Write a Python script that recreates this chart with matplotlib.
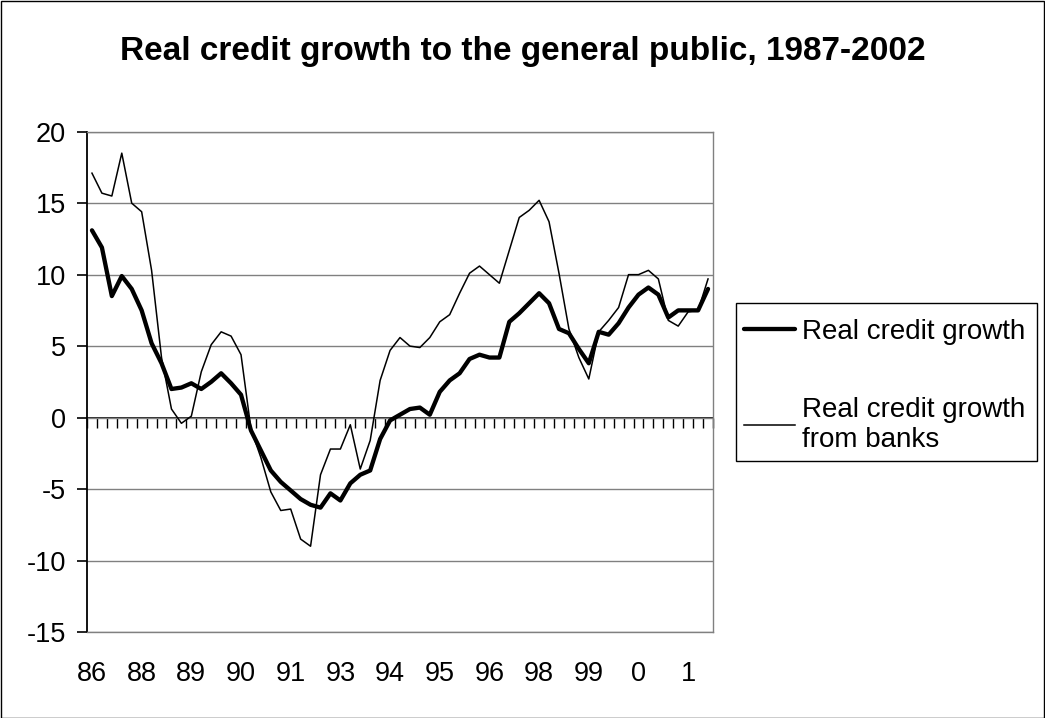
import numpy as np
import matplotlib
matplotlib.use("Agg")
import matplotlib.pyplot as plt
from matplotlib.patches import Rectangle

plt.rcParams['font.family'] = ['Liberation Sans', 'DejaVu Sans']
plt.rcParams['axes.unicode_minus'] = False

# Quarterly observations, 1986Q4 - 2002Q2 (annual % change, real terms)
credit_growth = [
    13.1, 11.9, 8.5, 9.9, 9.0, 7.5, 5.2, 3.8, 2.0, 2.1,
    2.4, 2.0, 2.5, 3.1, 2.4, 1.6, -0.9, -2.3, -3.7, -4.5,
    -5.1, -5.7, -6.1, -6.3, -5.3, -5.8, -4.6, -4.0, -3.7, -1.5,
    -0.2, 0.2, 0.6, 0.7, 0.2, 1.8, 2.6, 3.1, 4.1, 4.4,
    4.2, 4.2, 6.7, 7.3, 8.0, 8.7, 8.0, 6.2, 5.9, 4.8,
    3.8, 6.0, 5.8, 6.6, 7.7, 8.6, 9.1, 8.6, 7.0, 7.5,
    7.5, 7.5, 9.0,
]
bank_credit_growth = [
    17.1, 15.7, 15.5, 18.5, 15.0, 14.4, 10.3, 4.2, 0.6, -0.4,
    0.1, 3.2, 5.1, 6.0, 5.7, 4.4, -0.8, -2.8, -5.2, -6.5,
    -6.4, -8.5, -9.0, -4.0, -2.2, -2.2, -0.5, -3.6, -1.6, 2.6,
    4.7, 5.6, 5.0, 4.9, 5.6, 6.7, 7.2, 8.7, 10.1, 10.6,
    10.0, 9.4, 11.7, 14.0, 14.5, 15.2, 13.7, 10.1, 6.2, 4.2,
    2.7, 6.0, 6.8, 7.7, 10.0, 10.0, 10.3, 9.7, 6.8, 6.4,
    7.4, 7.5, 9.7,
]
year_labels = ["86", "88", "89", "90", "91", "93", "94", "95", "96",
               "98", "99", "0", "1"]
label_every = 5
series_names = ["Real credit growth", "Real credit growth\nfrom banks"]
title = "Real credit growth to the general public, 1987-2002"

W, H = 1045, 718
fig = plt.figure(figsize=(W / 100, H / 100), dpi=100)
ax = fig.add_axes([87 / W, 1 - 632 / H, (713 - 87) / W, (632 - 131.7) / H])

n = len(credit_growth)
x = np.arange(n)

ax.plot(x, credit_growth, color='black', lw=3.1, solid_joinstyle='round',
        solid_capstyle='round', label=series_names[0], zorder=4)
ax.plot(x, bank_credit_growth, color='black', lw=1.1, solid_joinstyle='round',
        label=series_names[1], zorder=3)

ax.set_xlim(-0.5, n - 0.5)
ax.set_ylim(-15, 20)
ax.set_yticks(np.arange(-15, 21, 5))
ax.yaxis.grid(True, color='#808080', lw=1.0)
ax.set_axisbelow(True)

# category labels under the plot area, every fifth quarter
ax.set_xticks(x[::label_every])
ax.set_xticklabels(year_labels)
ax.tick_params(axis='x', length=0, pad=21, labelsize=19.5)
ax.tick_params(axis='y', direction='out', length=7, width=1.2, pad=8,
               labelsize=19.5, color='black')

for side in ('top', 'right', 'bottom'):
    ax.spines[side].set_color('#808080')
    ax.spines[side].set_linewidth(1.0)
ax.spines['left'].set_color('black')
ax.spines['left'].set_linewidth(1.3)

# category axis crossing at zero, with tick marks between categories
zero_frac = (0 - (-15)) / 35
xax = ax.secondary_xaxis(zero_frac)
xax.set_xticks(np.arange(-0.5, n, 1.0))
xax.tick_params(direction='out', length=7, width=1.0, labelbottom=False,
                labeltop=False, bottom=True, top=False, color='black')
xax.spines['bottom'].set_color('black')
xax.spines['bottom'].set_linewidth(1.2)

# legend entries, with a plain rectangular frame around them
leg = fig.legend(loc='upper left', bbox_to_anchor=(744 / W, 1 - 319 / H),
                 borderaxespad=0, frameon=False, fontsize=20,
                 handlelength=1.85, handletextpad=0.25, labelspacing=1.86,
                 borderpad=0)
fig.patches.append(Rectangle((735.7 / W, 1 - 461 / H), (1037 - 735.7) / W,
                             (461 - 303.3) / H, transform=fig.transFigure,
                             fill=False, edgecolor='black', lw=1.0))

fig.text(0.5, 1 - 60 / H, title, ha='center', va='baseline',
         fontsize=24, fontweight='bold')

fig.patches.append(Rectangle((0.5 / W, 0.5 / H), 1 - 1.5 / W, 1 - 1.5 / H,
                             transform=fig.transFigure, fill=False,
                             edgecolor='black', lw=1.0))

fig.savefig('out.png', dpi=100, facecolor='white')
